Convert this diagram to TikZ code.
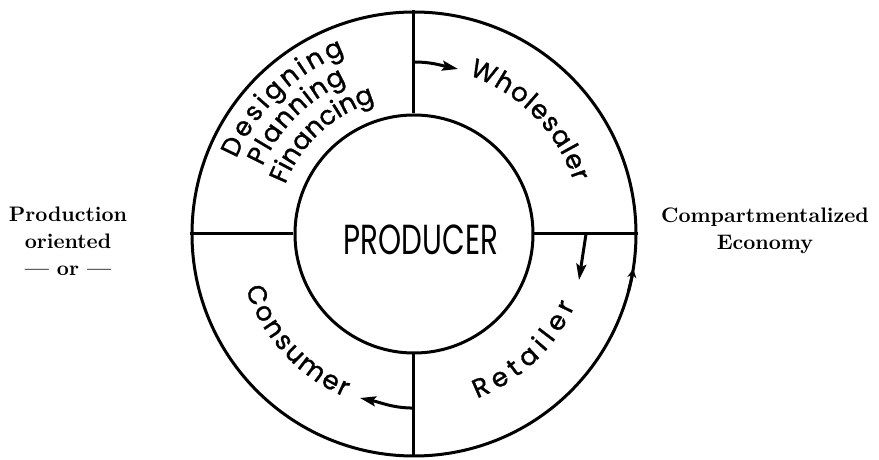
\documentclass[tikz,border=0pt]{standalone}
\usepackage{fontspec}
\usepackage{graphicx}
\usetikzlibrary{calc,arrows.meta,decorations.text}

\newfontfamily\ringfont{Poppins}[FakeBold=1.2]
\newfontfamily\corefont{Poppins}
\newcommand{\RingFont}{\ringfont\fontsize{13}{13}\selectfont}

% label bent along an arc of the ring: radius, from angle, to angle, text
\newcommand{\ArcText}[4]{%
  \path[decorate,decoration={text along path,text align=fit to path,
      text={|\RingFont|#4}}]
    (#2:#1) arc[start angle=#2,end angle=#3,radius=#1];}

\tikzset{
  ring/.style={circle,draw,line width=1.5pt,inner sep=0pt},
  divider/.style={line width=1.5pt},
  flow/.style={line width=1.5pt,-{Stealth[length=8pt,width=5pt,inset=1.5pt]}},
  side/.style={align=center,font=\fontsize{10.5}{13.5}\selectfont\bfseries},
}

\begin{document}
\begin{tikzpicture}[x=0.5pt,y=0.5pt]
    \useasboundingbox (-414,-226) rectangle (465,234);
    \node[ring,minimum size=222pt] (outer) at (0,0) {};
    \node[ring,minimum size=119pt] (core) at (0,0) {};
    \node (producer) at (7,-6)
      {\scalebox{0.7}[1]{\corefont\fontsize{21}{21}\selectfont PRODUCER}};
    %
    \draw[divider] (core.north) -- (outer.north);
    \draw[divider] (core.east) -- (outer.east);
    \draw[divider] (core.south) -- (outer.south);
    \draw[divider] (core.west) -- (outer.west);
    %
    \coordinate (topmid) at ($(core.north)!.5!(outer.north)$);
    \coordinate (rightmid) at ($(core.east)!.5!(outer.east)$);
    \coordinate (bottommid) at ($(core.south)!.52!(outer.south)$);
    \coordinate (toWholesaler) at (44,165);
    \coordinate (toRetailer) at (165,-46);
    \coordinate (toConsumer) at (-54,-164);
    \draw[flow] (topmid) to[out=0,in=168] (toWholesaler);
    \draw[flow] (rightmid) -- (toRetailer);
    \draw[flow] (bottommid) to[out=180,in=-12] (toConsumer);
    \draw[divider,-{Stealth[length=4.5pt,width=4.5pt]}]
      (-15:222) arc[start angle=-15,end angle=-9,radius=222];
    %
    \ArcText{193}{157}{111}{Designing}
    \ArcText{166}{156}{114}{Planning}
    \ArcText{138}{159}{109}{Financing}
    \ArcText{168}{71}{18}{Wholesaler}
    \ArcText{176}{-69}{-24}{Retailer}
    \ArcText{177}{198}{247}{Consumer}
    %
    \node[side] (prodlabel) at (-346,-7) {Production\\oriented\\--- or ---};
    \node[side] (econlabel) at (351,3) {Compartmentalized\\Economy};
\end{tikzpicture}
\end{document}
